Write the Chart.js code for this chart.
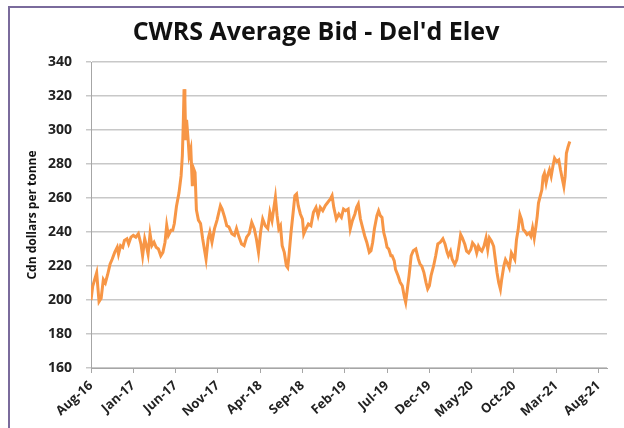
<!DOCTYPE html>
<html lang="en">
<head>
    <meta charset="UTF-8">
    <title>CWRS Average Bid - Del'd Elev</title>
    <script src="https://cdn.jsdelivr.net/npm/chart.js"></script>
    <style>
        body {
            margin: 0;
            background: #ffffff;
            font-family: "Open Sans", sans-serif;
        }

        /* marco morado del recuadro */
        #frame {
            position: absolute;
            left: 8px;
            top: 6px;
            width: 616px;
            height: 422px;
            border-left: 2px solid #7a6b9c;
            border-top: 2px solid #7a6b9c;
        }

        #bidChart {
            position: absolute;
            left: 0;
            top: 0;
        }
    </style>
</head>
<body>
    <div id="frame"></div>
    <canvas id="bidChart" width="624" height="428"></canvas>

    <script>
        // Meses desde ago-2016 y precio medio (CAD por tonelada)
        const months = [
            0, 0.2, 0.67, 0.95, 1.2, 1.46, 1.7, 1.97, 2.25, 2.5, 2.8, 3.1, 3.25, 3.5, 3.75, 3.95,
            4.25, 4.45, 4.73, 5.0, 5.3, 5.6, 5.9, 6.1, 6.35, 6.55, 6.75, 6.98, 7.2, 7.45, 7.7, 7.97,
            8.25, 8.5, 8.75, 8.95, 9.15, 9.45, 9.66, 9.85, 10.1, 10.4, 10.65, 10.8, 10.92, 11.0,
            11.1, 11.2, 11.3, 11.5, 11.6, 11.8, 11.98, 12.15, 12.3, 12.46, 12.7, 12.95, 13.2, 13.4,
            13.6, 13.85, 14.05, 14.3, 14.6, 14.9, 15.3, 15.5, 15.8, 16.05, 16.3, 16.65, 16.96, 17.2,
            17.5, 17.8, 18.1, 18.4, 18.7, 19.0, 19.3, 19.55, 19.8, 20.05, 20.3, 20.6, 20.9, 21.15,
            21.4, 21.6, 21.8, 22.0, 22.2, 22.4, 22.6, 22.85, 23.1, 23.25, 23.4, 23.65, 23.9, 24.1,
            24.3, 24.5, 24.75, 25.0, 25.15, 25.4, 25.7, 26.0, 26.3, 26.6, 26.85, 27.1, 27.4, 27.7,
            28.0, 28.3, 28.5, 28.7, 29.0, 29.3, 29.6, 29.85, 30.1, 30.4, 30.65, 30.9, 31.2, 31.4,
            31.6, 31.85, 32.1, 32.35, 32.6, 32.9, 33.1, 33.3, 33.5, 33.8, 34.0, 34.2, 34.4, 34.6,
            34.8, 35.0, 35.2, 35.45, 35.6, 35.85, 36.0, 36.3, 36.55, 36.8, 37.05, 37.2, 37.4, 37.6,
            37.85, 38.1, 38.4, 38.7, 38.9, 39.1, 39.35, 39.6, 39.8, 40.0, 40.2, 40.5, 40.75, 41.0,
            41.3, 41.6, 41.85, 42.1, 42.25, 42.5, 42.7, 43.0, 43.25, 43.5, 43.7, 43.9, 44.2, 44.4,
            44.65, 44.9, 45.1, 45.4, 45.6, 45.8, 46.0, 46.2, 46.45, 46.7, 46.9, 47.1, 47.35, 47.6,
            47.8, 48.0, 48.2, 48.4, 48.55, 48.8, 49.0, 49.2, 49.45, 49.7, 49.9, 50.1, 50.3, 50.5,
            50.7, 50.9, 51.1, 51.3, 51.55, 51.8, 52.0, 52.2, 52.4, 52.6, 52.75, 52.9, 53.1, 53.3,
            53.45, 53.6, 53.8, 54.0, 54.2, 54.4, 54.6, 54.8, 55.05, 55.3, 55.5, 55.7, 55.9, 56.05,
            56.2, 56.4, 56.6
        ];

        const prices = [
            200, 208, 216, 199, 201, 212, 210, 215, 221, 224, 228, 231, 227, 232, 231, 235,
            236, 233, 237, 238, 237, 239, 233, 226, 236, 232, 227, 239, 232, 234, 231, 230,
            226, 228, 234, 244, 238, 241, 241, 245, 255, 263, 273, 285, 306, 324,
            318, 294, 306, 293, 285, 289, 267, 277, 275, 253, 247, 245, 236, 230,
            224, 236, 240, 234, 242, 247, 255.5, 253.5, 248.6, 243.7, 243, 239, 238, 242,
            237, 233, 232, 237, 239, 245.7, 242, 236, 228, 240, 247.6, 243.7, 242, 251.6,
            246.7, 253.5, 260.4, 249.6, 241.8, 243.7, 232, 228, 220, 219, 226, 240, 251.6, 261.4,
            262.4, 255.5, 250.6, 247.6, 238.8, 241.8, 244.7, 243.7, 251.6, 254.5, 249.6, 254.5, 252.5, 255.5,
            257.5, 259.4, 261.4, 254.5, 247.6, 250.6, 248.6, 253.5, 252.5, 253.5, 241.8, 246.7, 250.6, 254.5,
            256.5, 247.6, 242.7, 237.8, 234, 228, 229, 234, 241.8, 249.6, 252.5, 249.6, 248.6, 239.8,
            236, 231, 230, 226, 226, 223, 218, 214.3, 210.4, 208.4, 201.6, 198.6, 206.5, 214.3,
            226, 229, 230, 224, 221, 220, 216.3, 210.4, 206.5, 208.4, 214.3, 220, 226, 233,
            234, 236, 233, 228, 226, 228.7, 224, 220.9, 223.8, 231.6, 238.5, 236.5, 232.6, 228.7,
            227.7, 229.7, 233.6, 231.6, 227.7, 231.6, 229.7, 228.7, 231.6, 236.5, 229.7, 236.5, 234.6, 231.6,
            223.8, 216, 210.2, 206.3, 212.1, 219.9, 223.8, 221.9, 218.9, 227.7, 225.8, 223.8, 235.5, 241.4,
            250.2, 247.3, 241.4, 240.4, 238.5, 239.5, 237.5, 242.4, 236.5, 243.4, 249.2, 257, 260.9, 264.8,
            272.7, 274.6, 268.8, 273.6, 276.6, 272.7, 278.5, 283.4, 281.4, 282.4, 276.6, 271.7, 266.8, 272.7,
            286.3, 290.2, 293.2
        ];

        // Etiquetas del eje X, una cada 5 meses
        const monthLabels = [
            'Aug-16', 'Jan-17', 'Jun-17', 'Nov-17', 'Apr-18', 'Sep-18', 'Feb-19',
            'Jul-19', 'Dec-19', 'May-20', 'Oct-20', 'Mar-21', 'Aug-21'
        ];

        const yTicks = [160, 180, 200, 220, 240, 260, 280, 300, 320, 340];

        const points = months.map((m, i) => ({ x: m, y: prices[i] }));

        const tickFont = { family: 'Open Sans', size: 13, weight: 'bold' };

        const ctx = document.getElementById('bidChart').getContext('2d');
        new Chart(ctx, {
            type: 'line',
            data: {
                datasets: [{
                    data: points,
                    borderColor: '#f79646',
                    borderWidth: 3,
                    pointRadius: 0,
                    tension: 0,
                    fill: false
                }]
            },
            options: {
                responsive: false,
                animation: false,
                layout: {
                    padding: { left: 25, right: 17, top: 0, bottom: 0 }
                },
                plugins: {
                    legend: { display: false },
                    tooltip: { enabled: false },
                    title: {
                        display: true,
                        text: "CWRS Average Bid - Del'd Elev",
                        color: '#111111',
                        font: { family: 'Open Sans', size: 25, weight: 'bold' },
                        padding: { top: 18, bottom: 14 }
                    }
                },
                scales: {
                    x: {
                        type: 'linear',
                        min: 0,
                        max: 61,
                        afterFit: (scale) => { scale.height = 60; },
                        afterBuildTicks: (scale) => {
                            scale.ticks = monthLabels.map((_, i) => ({ value: i * 5 }));
                        },
                        ticks: {
                            color: '#222222',
                            font: tickFont,
                            minRotation: 42,
                            maxRotation: 42,
                            padding: 5,
                            autoSkip: false,
                            callback: (value) => monthLabels[value / 5]
                        },
                        grid: {
                            drawOnChartArea: false,
                            drawTicks: true,
                            tickLength: 5,
                            color: '#a6a6a6'
                        },
                        border: { color: '#a6a6a6', width: 1 }
                    },
                    y: {
                        min: 160,
                        max: 340,
                        afterFit: (scale) => { scale.width = 66; },
                        afterBuildTicks: (scale) => {
                            scale.ticks = yTicks.map(v => ({ value: v }));
                        },
                        ticks: {
                            color: '#222222',
                            font: { family: 'Open Sans', size: 14, weight: 'bold' },
                            padding: 14
                        },
                        grid: {
                            color: '#c8c8c8',
                            lineWidth: 1.5,
                            tickLength: 5
                        },
                        border: { color: '#a6a6a6', width: 1 },
                        title: {
                            display: true,
                            text: 'Cdn dollars per tonne',
                            color: '#111111',
                            font: { family: 'Open Sans', size: 12, weight: 'bold' },
                            padding: { top: 0, bottom: 4 }
                        }
                    }
                }
            }
        });
    </script>
</body>
</html>
